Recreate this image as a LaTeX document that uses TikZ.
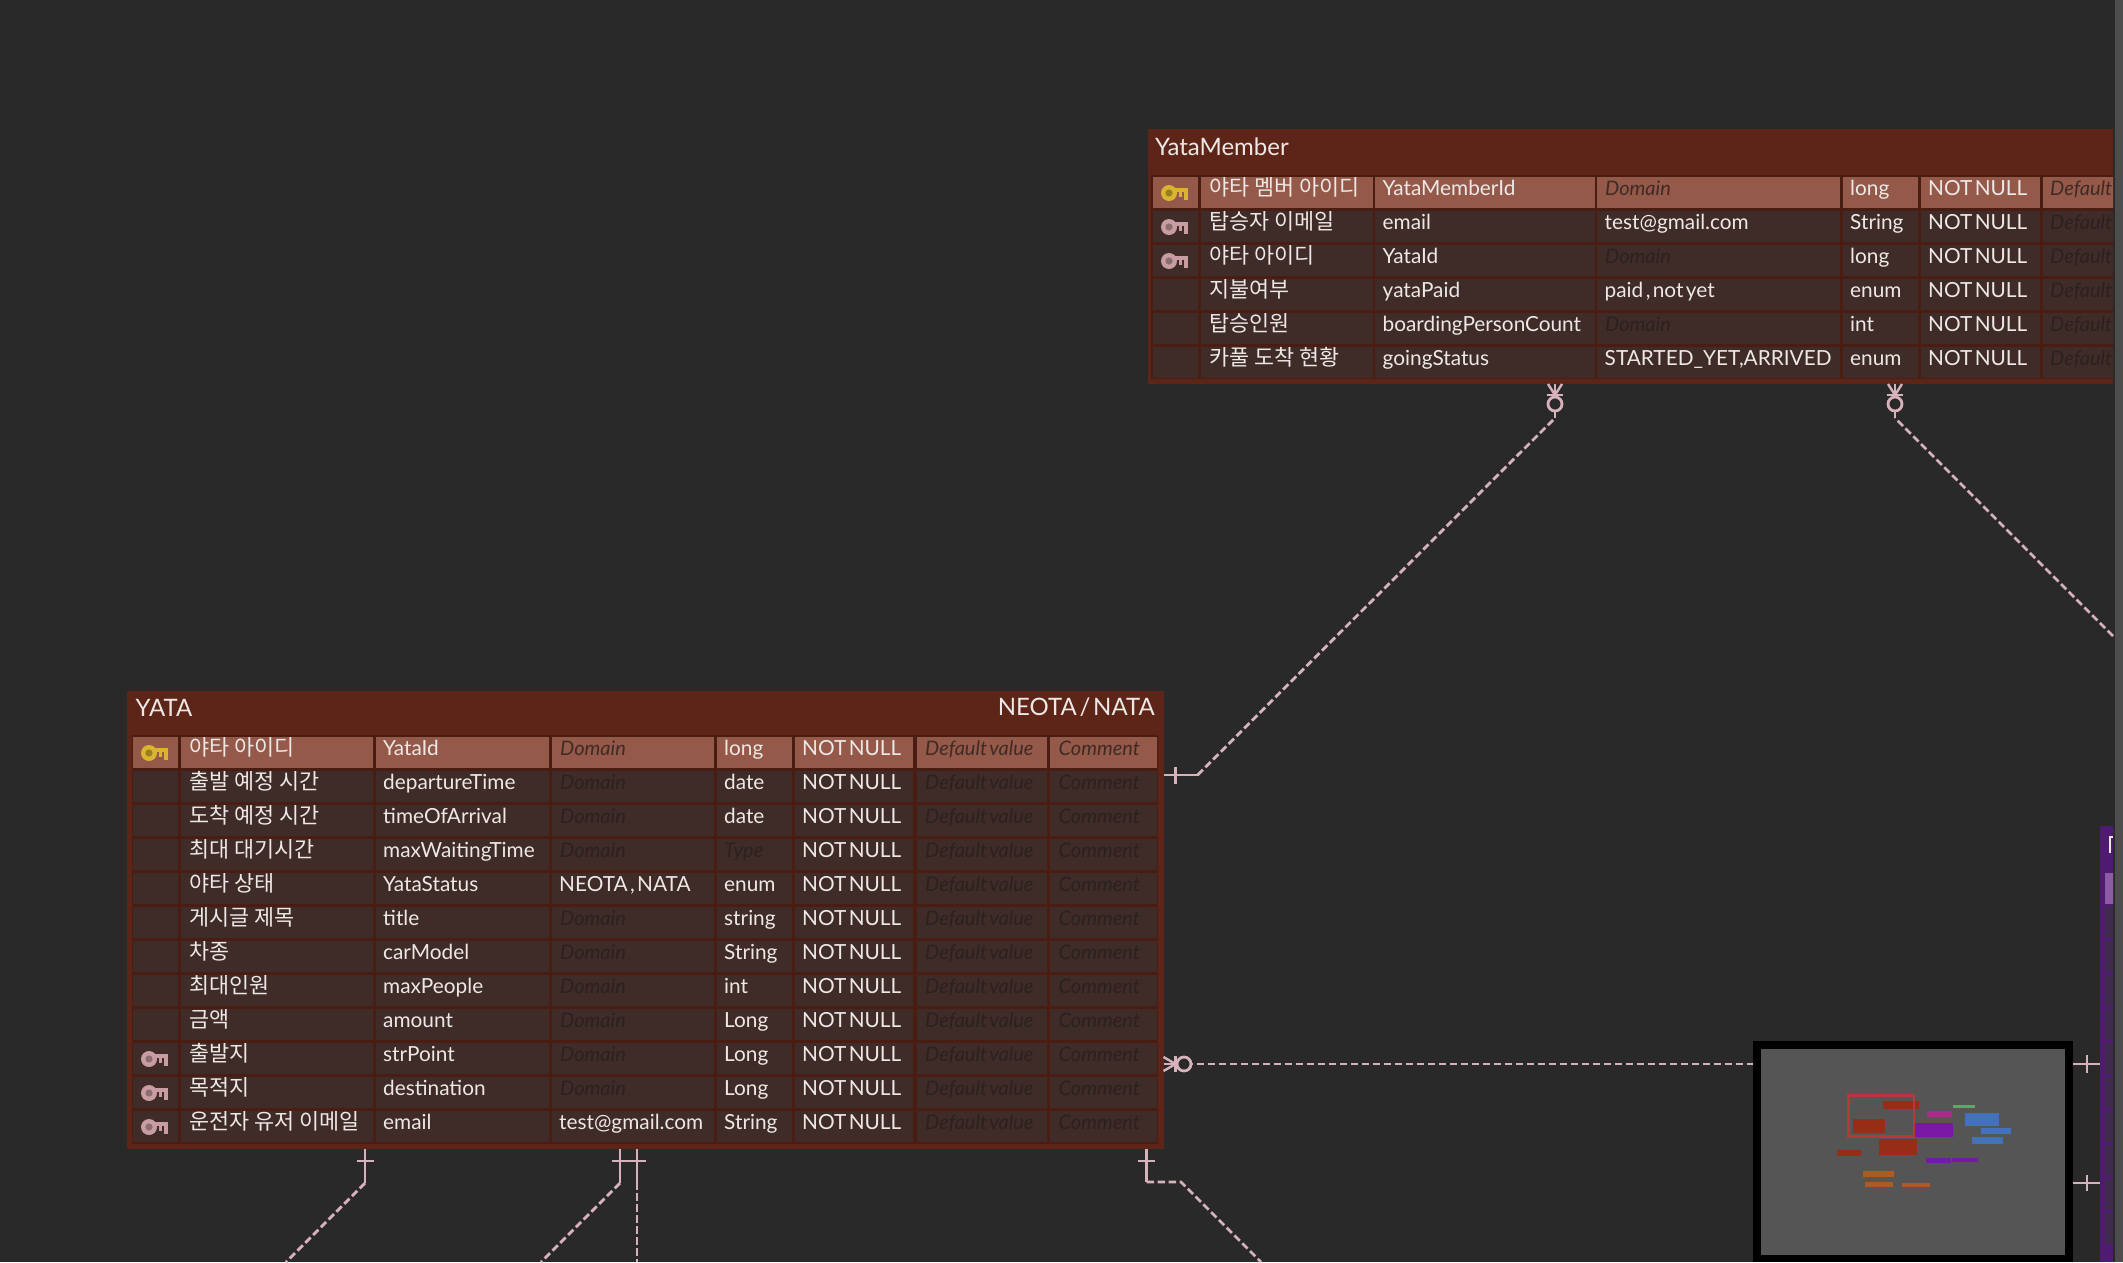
\documentclass[tikz,border=0pt]{standalone}
\usepackage{fontspec}
\setmainfont[WordSpace=0.45]{Lato}
\newfontfamily\krfont{Noto Sans CJK KR}
\usetikzlibrary{calc}
\definecolor{bgc}{HTML}{292929}
\definecolor{tblc}{HTML}{5C2518}
\definecolor{gridc}{HTML}{4A1D12}
\definecolor{rowc}{HTML}{3F2B27}
\definecolor{hic}{HTML}{95594A}
\definecolor{txtc}{HTML}{EDE8E6}
\definecolor{phc}{HTML}{2A2120}
\definecolor{phhi}{HTML}{3F2A24}
\definecolor{linkc}{HTML}{D8B2BB}
\definecolor{keyy}{HTML}{D9B42E}
\definecolor{keyp}{HTML}{C79DA3}
\definecolor{purp}{HTML}{4E1A72}
\definecolor{purhi}{HTML}{8A5CA6}
\definecolor{purrow}{HTML}{3F2B4C}
\definecolor{mapbg}{HTML}{555555}
\definecolor{mapred}{HTML}{982D17}
\definecolor{mappur}{HTML}{7A18A6}
\definecolor{mapblu}{HTML}{4472B8}
\definecolor{maporg}{HTML}{AE5A22}
\definecolor{mapmag}{HTML}{A0308A}
\definecolor{mapgrn}{HTML}{4FAE6A}
\definecolor{mapview}{HTML}{B8383A}
\definecolor{sbar}{HTML}{4D4D4D}
\tikzset{
 x=1pt,y=-1pt,
 tablebox/.style={draw=none,fill=tblc,rectangle,inner sep=0pt,anchor=north west},
 celltxt/.style={anchor=base west,inner sep=0pt,text=txtc,font=\fontsize{20.8}{21}\selectfont},
 krtxt/.style={anchor=base west,inner sep=0pt,text=txtc,font=\krfont\fontsize{21.8}{22}\selectfont},
 phtxt/.style={celltxt,text=phc,font=\fontsize{20}{20}\selectfont\itshape},
 hitxt/.style={celltxt,text=phhi,font=\fontsize{20}{20}\selectfont\itshape},
 titletxt/.style={inner sep=0pt,text=txtc,font=\fontsize{24}{25}\selectfont},
 solidlink/.style={draw=linkc,line width=2.8pt},
 dashlink/.style={draw=linkc,line width=2.8pt,dash pattern=on 7.5pt off 3.5pt},
 ringend/.style={draw=linkc,line width=2.8pt,fill=bgc,circle,inner sep=0pt,minimum size=14pt},
 mapblock/.style={draw=none,inner sep=0pt}
}
% key icon: #1 x, #2 y of ring centre, #3 colour
\newcommand{\keyicon}[3]{%
 \fill[#3] (#1,#2) circle[radius=8];
 \fill[#3!70!black] (#1,#2) circle[radius=3.6];
 \fill[#3] (#1+5,#2-5) rectangle (#1+19,#2-1);
 \fill[#3] (#1+10,#2-2) rectangle (#1+12.5,#2+4);
 \fill[#3] (#1+14.5,#2-2) rectangle (#1+19,#2+7);
}
% cell: #1 left #2 right #3 row top #4 colour
\newcommand{\cellbox}[4]{\fill[#4] (#1,#3) rectangle (#2,#3+31);}
% crow foot at the table side
\newcommand{\crowh}[2]{%
 \draw[linkc,line width=2.8pt] (#1,#2) -- (#1+14,#2);
 \draw[linkc,line width=2.4pt] (#1,#2-7) -- (#1+12,#2) -- (#1,#2+7);
 \draw[linkc,line width=2.4pt] (#1+12,#2-8) -- (#1+12,#2+8);}
\newcommand{\crowv}[2]{%
 \draw[linkc,line width=2.8pt] (#1,#2) -- (#1,#2+14);
 \draw[linkc,line width=2.4pt] (#1-7,#2) -- (#1,#2+11) -- (#1+7,#2);
 \draw[linkc,line width=2.4pt] (#1-8,#2+11) -- (#1+8,#2+11);}
\begin{document}
\begin{tikzpicture}
\useasboundingbox (0,0) rectangle (2123,1262);
\fill[bgc] (0,0) rectangle (2123,1262);
\fill[sbar] (2115,0) rectangle (2123,1262);
% ===== connectors (under the tables) =====
\node[tablebox,minimum width=1037pt,minimum height=458pt] (yata) at (127,691) {};
\node[tablebox,minimum width=965.5pt,minimum height=255pt] (member) at (1147.5,129) {};
\node[tablebox,fill=purp,minimum width=13.5pt,minimum height=436pt] (purple) at (2099.5,826) {};
% free ends
\coordinate (m1) at (1555,384);
\coordinate (m2) at (1895,384);
\coordinate (m1b) at (1555,418);
\coordinate (m2b) at (1895,418);
\coordinate (m2e) at (2113,636);
\coordinate (y1) at (1163.5,775);
\coordinate (y1b) at (1197.5,775);
\coordinate (y2) at (1163.5,1064);
\coordinate (p2) at (2099.5,1064);
\coordinate (p3) at (2099.5,1183);
\coordinate (m3) at (2073,1183);
\coordinate (ya) at (365,1149);
\coordinate (yab) at (365,1183);
\coordinate (yae) at (286,1262);
\coordinate (yb) at (620,1149);
\coordinate (ybb) at (620,1183);
\coordinate (ybe) at (541,1262);
\coordinate (yc) at (637,1149);
\coordinate (ycb) at (637,1182);
\coordinate (yce) at (637,1262);
\coordinate (yd) at (1146.6,1149);
\coordinate (ydb) at (1146.6,1182);
\coordinate (ydc) at (1181,1182);
\coordinate (yde) at (1261,1262);
\draw[solidlink] (y1) -- (y1b);
\draw[solidlink] (1175.7,767) -- (1175.7,784);
\draw[dashlink] (y1b) -- (m1b);
\draw[solidlink] (m1b) -- (m1);
\draw[dashlink] (m2e) -- (m2b);
\draw[solidlink] (m2b) -- (m2);
\node[ringend] (r1) at (1555,404) {};
\node[ringend] (r2) at (1895,404) {};
\crowv{1555}{384}
\crowv{1895}{384}
\draw[dashlink] (y2) -- (p2);
\node[ringend] (r3) at (1184,1064) {};
\crowh{1163.5}{1064}
\draw[solidlink] (ya) -- (yab);
\draw[solidlink] (356.5,1161) -- (373.5,1161);
\draw[dashlink] (yab) -- (yae);
\draw[solidlink] (yb) -- (ybb);
\draw[solidlink] (611.5,1161) -- (628.5,1161);
\draw[dashlink] (ybb) -- (ybe);
\draw[solidlink] (yc) -- (ycb);
\draw[solidlink] (628.5,1161) -- (645.5,1161);
\draw[dashlink] (ycb) -- (yce);
\draw[solidlink] (yd) -- (ydb);
\draw[solidlink] (1138,1161) -- (1155,1161);
\draw[dashlink] (ydb) -- (ydc) -- (yde);
% ===== YATA table =====
\fill[gridc] (132,735) rectangle (1158,1144);
\node[titletxt,anchor=west] (yatatitle) at (135.5,707.5) {YATA};
\node[titletxt,anchor=east] (yataright) at (1155,707.5) {NEOTA / NATA};
\foreach \r/\kr/\lg/\dm [count=\i from 0] in {
 {야타 아이디}/YataId/{}/long,
 {출발 예정 시간}/departureTime/{}/date,
 {도착 예정 시간}/timeOfArrival/{}/date,
 {최대 대기시간}/maxWaitingTime/{}/{},
 {야타 상태}/YataStatus/{NEOTA , NATA}/enum,
 {게시글 제목}/title/{}/string,
 {차종}/carModel/{}/String,
 {최대인원}/maxPeople/{}/int,
 {금액}/amount/{}/Long,
 {출발지}/strPoint/{}/Long,
 {목적지}/destination/{}/Long,
 {운전자 유저 이메일}/email/{test@gmail.com}/String}
 {
 \pgfmathsetmacro\ytop{736.8+34*\i}
 \pgfmathsetmacro\ybase{\ytop+18.3}
 \ifnum\i=0 \def\cc{hic}\def\pst{hitxt}\else\def\cc{rowc}\def\pst{phtxt}\fi
 \cellbox{133}{178}{\ytop}{\cc}
 \cellbox{180.7}{373}{\ytop}{\cc}
 \cellbox{376}{549}{\ytop}{\cc}
 \cellbox{552}{713.5}{\ytop}{\cc}
 \cellbox{716.5}{792}{\ytop}{\cc}
 \cellbox{795}{913}{\ytop}{\cc}
 \cellbox{916.5}{1047}{\ytop}{\cc}
 \cellbox{1049.5}{1157}{\ytop}{\cc}
 \node[krtxt] (yk\i) at (189,\ybase+0.5) {\r};
 \node[celltxt] (yl\i) at (383,\ybase) {\kr};
 \ifx\lg\empty \node[\pst] (yd\i) at (560,\ybase) {Domain};
 \else \node[celltxt] (yd\i) at (559,\ybase) {\lg}; \fi
 \ifx\dm\empty \node[\pst] (yt\i) at (724,\ybase) {Type};
 \else \node[celltxt] (yt\i) at (724,\ybase) {\dm}; \fi
 \node[celltxt] (yn\i) at (802,\ybase) {NOT NULL};
 \node[\pst] (yv\i) at (925,\ybase) {Default value};
 \node[\pst] (yc\i) at (1058.5,\ybase) {Comment};
 }
\keyicon{149}{753}{keyy}
\keyicon{149}{1059}{keyp}
\keyicon{149}{1093}{keyp}
\keyicon{149}{1127}{keyp}
% ===== YataMember table =====
\begin{scope}
\clip (1140,120) rectangle (2113,400);
\fill[gridc] (1151,175) rectangle (2113,379);
\node[titletxt,anchor=west] (memtitle) at (1155,146.5) {YataMember};
\foreach \r/\kr/\lg/\dm [count=\i from 0] in {
 {야타 멤버 아이디}/YataMemberId/{}/long,
 {탑승자 이메일}/email/{test@gmail.com}/String,
 {야타 아이디}/YataId/{}/long,
 {지불여부}/yataPaid/{paid , not yet}/enum,
 {탑승인원}/boardingPersonCount/{}/int,
 {카풀 도착 현황}/goingStatus/{STARTED\_YET,ARRIVED}/enum}
 {
 \pgfmathsetmacro\ytop{176.8+34*\i}
 \pgfmathsetmacro\ybase{\ytop+18.3}
 \ifnum\i=0 \def\cc{hic}\def\pst{hitxt}\else\def\cc{rowc}\def\pst{phtxt}\fi
 \cellbox{1152.5}{1198}{\ytop}{\cc}
 \cellbox{1201}{1372.6}{\ytop}{\cc}
 \cellbox{1375}{1594.5}{\ytop}{\cc}
 \cellbox{1597}{1840}{\ytop}{\cc}
 \cellbox{1843}{1917.5}{\ytop}{\cc}
 \cellbox{1920.5}{2040}{\ytop}{\cc}
 \cellbox{2042.5}{2115}{\ytop}{\cc}
 \node[krtxt] (mk\i) at (1209,\ybase+0.5) {\r};
 \node[celltxt] (ml\i) at (1382.5,\ybase) {\kr};
 \ifx\lg\empty \node[\pst] (md\i) at (1605,\ybase) {Domain};
 \else \node[celltxt] (md\i) at (1604.5,\ybase) {\lg}; \fi
 \node[celltxt] (mt\i) at (1850,\ybase) {\dm};
 \node[celltxt] (mn\i) at (1928,\ybase) {NOT NULL};
 \node[\pst] (mv\i) at (2050,\ybase) {Default value};
 }
\end{scope}
\keyicon{1169}{193}{keyy}
\keyicon{1169}{227}{keyp}
\keyicon{1169}{261}{keyp}
% ===== clipped table at the right edge =====
\begin{scope}
\clip (2090,820) rectangle (2113,1262);
\foreach \i in {0,...,10}{
 \pgfmathsetmacro\ytop{873+34*\i}
 \ifnum\i=0 \def\cc{purhi}\else\def\cc{purrow}\fi
 \fill[\cc] (2105,\ytop) rectangle (2115,\ytop+31);
 }
\fill[txtc] (2108.8,835.5) rectangle (2111.2,852.5);
\fill[txtc] (2108.8,835.5) rectangle (2113,838);
\end{scope}
% ===== right side ticks =====
\draw[solidlink] (m3) -- (p3);
\draw[solidlink] (2087,1055) -- (2087,1073);
\draw[solidlink] (2087,1175) -- (2087,1191);
\draw[solidlink] (2073,1064) -- (p2);
% ===== minimap =====
\node[fill=black,inner sep=0pt,anchor=north west,minimum width=320pt,minimum height=221pt] (map) at (1753,1041) {};
\node[fill=mapbg,inner sep=0pt,anchor=north west,minimum width=304pt,minimum height=206pt] (mapin) at (1761,1049) {};
\begin{scope}[shift={(1720,1020)},x=0.3333pt,y=-0.3333pt]
\fill[mapred] (490,243) rectangle (596,268);
\fill[mapred] (400,296) rectangle (494,338);
\fill[mapred] (478,358) rectangle (591,405);
\fill[mapred] (350,390) rectangle (423,408);
\fill[mapmag] (621,274) rectangle (696,291);
\fill[mapgrn] (698,254) rectangle (765,265);
\fill[mappur] (582,308) rectangle (699,351);
\fill[mappur] (618,415) rectangle (694,430);
\fill[mappur] (697,415) rectangle (775,427);
\fill[mapblu] (735,280) rectangle (836,318);
\fill[mapblu] (784,325) rectangle (873,341);
\fill[mapblu] (757,350) rectangle (849,373);
\fill[maporg] (430,453) rectangle (522,471);
\fill[maporg] (435,486) rectangle (520,501);
\fill[maporg] (545,489) rectangle (631,501);
\draw[mapview,line width=2.4pt] (385,226) rectangle (582,350);
\end{scope}
\end{tikzpicture}
\end{document}
